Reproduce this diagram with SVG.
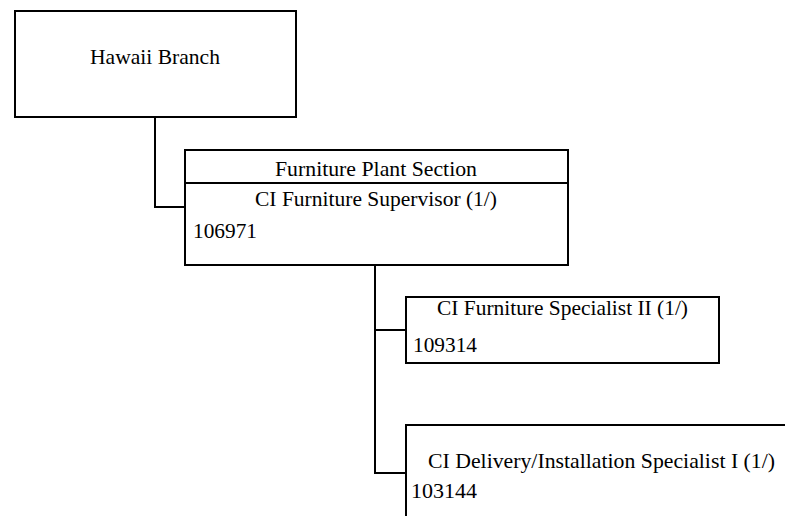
<svg xmlns="http://www.w3.org/2000/svg" width="785" height="516" viewBox="0 0 785 516">
<style>
.box{fill:#fff;stroke:#000;stroke-width:2}
.ln{fill:none;stroke:#000;stroke-width:2}
text{font-family:"Liberation Serif","Times New Roman",serif;font-size:21px;fill:#000}
</style>
<rect width="785" height="516" fill="#fff"/>
<g id="connectors">
<polyline class="ln" points="155,117 155,207 185,207"/>
<polyline class="ln" points="375,265 375,473 406,473"/>
<line class="ln" x1="375" y1="330" x2="406" y2="330"/>
</g>
<g id="hawaii-branch">
<rect class="box" x="15" y="11" width="281" height="106"/>
<text x="90" y="64" textLength="130" lengthAdjust="spacingAndGlyphs">Hawaii Branch</text>
</g>
<g id="furniture-supervisor">
<rect class="box" x="185" y="150" width="383" height="115"/>
<line class="ln" x1="185" y1="183" x2="568" y2="183"/>
<text x="275" y="176" textLength="202" lengthAdjust="spacingAndGlyphs">Furniture Plant Section</text>
<text x="255" y="206" textLength="242" lengthAdjust="spacingAndGlyphs">CI Furniture Supervisor (1/)</text>
<text x="193" y="238" textLength="64" lengthAdjust="spacingAndGlyphs">106971</text>
</g>
<g id="furniture-specialist-ii">
<rect class="box" x="406" y="297" width="313" height="66"/>
<text x="437" y="315" textLength="251" lengthAdjust="spacingAndGlyphs">CI Furniture Specialist II (1/)</text>
<text x="413" y="352" textLength="64" lengthAdjust="spacingAndGlyphs">109314</text>
</g>
<g id="delivery-installation-specialist-i">
<rect class="box" x="406" y="425" width="400" height="120"/>
<text x="428" y="468" textLength="347" lengthAdjust="spacingAndGlyphs">CI Delivery/Installation Specialist I (1/)</text>
<text x="411" y="498" textLength="66" lengthAdjust="spacingAndGlyphs">103144</text>
</g>
</svg>
